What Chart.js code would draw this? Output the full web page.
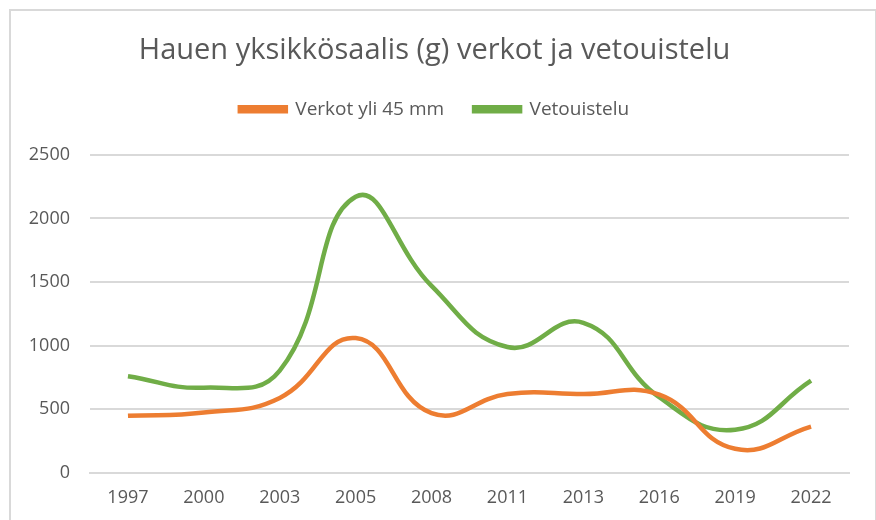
<!DOCTYPE html>
<html>
<head>
<meta charset="utf-8">
<script src="https://cdn.jsdelivr.net/npm/chart.js@4"></script>
<style>
  body { margin: 0; background: #fff; }
  #wrap { position: relative; width: 876px; height: 520px; overflow: hidden; }
  #frame { position: absolute; left: 9px; top: 9px; width: 864px; height: 540px; border: 2px solid #d9d9d9; }
  canvas { position: absolute; left: 0; top: 0; }
</style>
</head>
<body>
<div id="wrap">
  <div id="frame"></div>
  <canvas id="myChart" width="876" height="520"></canvas>
</div>
<script>
const years = ['1997', '2000', '2003', '2005', '2008', '2011', '2013', '2016', '2019', '2022'];
const verkot = [450, 475, 590, 1060, 470, 620, 620, 615, 190, 365];
const vetouistelu = [760, 670, 805, 2170, 1470, 990, 1180, 595, 340, 725];
const yTicks = [0, 500, 1000, 1500, 2000, 2500];

const textColor = '#595959';
const gridColor = '#d9d9d9';
const font = "'Open Sans', 'Liberation Sans', sans-serif";

// push the plot area down under the legend
const legendGap = {
  id: 'legendGap',
  beforeInit(chart) {
    const fit = chart.legend.fit;
    chart.legend.fit = function () {
      fit.bind(chart.legend)();
      this.height += 26;
    };
  }
};

const ctx = document.getElementById('myChart').getContext('2d');
new Chart(ctx, {
  type: 'line',
  data: {
    labels: years,
    datasets: [{
      label: 'Verkot yli 45 mm',
      data: verkot,
      borderColor: '#ed7d31',
      backgroundColor: '#ed7d31',
      borderWidth: 4.5,
      pointRadius: 0,
      tension: 0.45
    }, {
      label: 'Vetouistelu',
      data: vetouistelu,
      borderColor: '#70ad47',
      backgroundColor: '#70ad47',
      borderWidth: 4.5,
      pointRadius: 0,
      tension: 0.45
    }]
  },
  options: {
    responsive: false,
    animation: false,
    layout: { padding: { left: 20, right: 27, top: 10, bottom: 11 } },
    plugins: {
      title: {
        display: true,
        text: 'Hauen yksikkösaalis (g) verkot ja vetouistelu',
        color: textColor,
        font: { family: font, size: 29, weight: 'normal' },
        padding: { top: 23, bottom: 2 }
      },
      legend: {
        labels: {
          color: textColor,
          font: { family: font, size: 19 },
          boxWidth: 46,
          boxHeight: 4,
          padding: 30
        }
      },
      tooltip: { enabled: false }
    },
    scales: {
      x: {
        offset: true,
        afterFit(scale) { scale.height = 36; },
        grid: { display: false, drawTicks: false },
        border: { color: gridColor, width: 2 },
        ticks: { color: textColor, font: { family: font, size: 18 }, padding: 14, maxRotation: 0 }
      },
      y: {
        min: 0,
        max: 2500,
        afterFit(scale) { scale.width = 70; },
        afterBuildTicks(scale) { scale.ticks = yTicks.map(v => ({ value: v })); },
        grid: { color: gridColor, lineWidth: 2, drawTicks: false },
        border: { display: false },
        ticks: {
          color: textColor,
          font: { family: font, size: 18 },
          padding: 20,
          callback: v => String(v)
        }
      }
    }
  },
  plugins: [legendGap]
});
</script>
</body>
</html>
